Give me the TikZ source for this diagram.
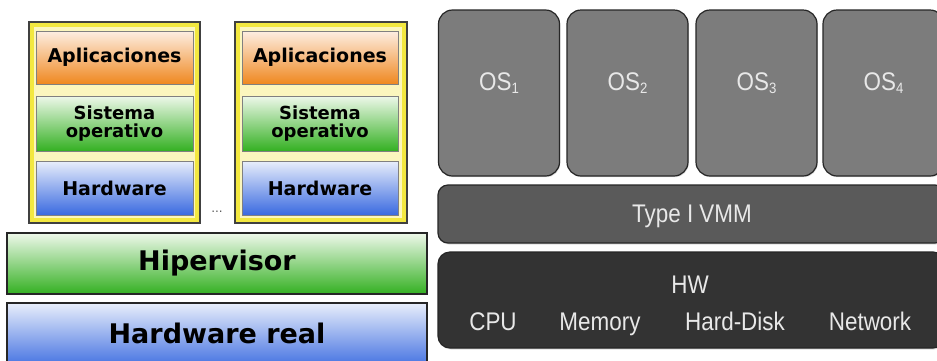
\documentclass[tikz,border=0pt]{standalone}
\usepackage{fontspec}
\setmainfont{DejaVu Sans}
\newfontfamily\arialf{Liberation Sans}
\usetikzlibrary{shadows}
\definecolor{vmband}{HTML}{F3E840}
\definecolor{vmfill}{HTML}{FBF6BE}
\definecolor{vmline}{HTML}{404040}
\definecolor{orTop}{HTML}{FDEEE2}
\definecolor{orBot}{HTML}{EF8820}
\definecolor{grTop}{HTML}{EEF8EA}
\definecolor{grBot}{HTML}{34B022}
\definecolor{blTop}{HTML}{E8EEFB}
\definecolor{blBot}{HTML}{3A6AE0}
\definecolor{osFill}{HTML}{7C7C7C}
\definecolor{vmmFill}{HTML}{5A5A5A}
\definecolor{hwFill}{HTML}{333333}
\definecolor{boxLine}{HTML}{262626}
\definecolor{lblText}{HTML}{E8E8E8}
\tikzset{
  vmouter/.style={draw=vmline, line width=1.4pt, fill=vmband, minimum width=171pt, minimum height=201pt, inner sep=0pt},
  vminner/.style={fill=vmfill, minimum width=161pt, minimum height=191pt, inner sep=0pt},
  layerbox/.style={draw=gray, line width=0.8pt, minimum width=157pt, inner sep=0pt, align=center,
     font=\bfseries\fontsize{19}{19}\selectfont},
  appbox/.style={layerbox, top color=orTop, bottom color=orBot, minimum height=53pt},
  sobox/.style={layerbox, top color=grTop, bottom color=grBot, minimum height=55pt,
     font=\bfseries\fontsize{18}{17.5}\selectfont},
  vhwbox/.style={layerbox, top color=blTop, bottom color=blBot, minimum height=54pt},
  bigbox/.style={draw=boxLine, line width=1.4pt, minimum width=420pt, inner sep=0pt,
     font=\bfseries\fontsize{27}{27}\selectfont},
  osbox/.style={draw=boxLine, line width=1.2pt, fill=osFill, rounded corners=14pt,
     minimum width=121pt, minimum height=166pt, inner sep=0pt,
     drop shadow={shadow xshift=0.8pt, shadow yshift=-1.2pt, opacity=0.25}},
  flatbox/.style={draw=boxLine, line width=1.2pt, rounded corners=10pt, minimum width=507pt, inner sep=0pt,
     drop shadow={shadow xshift=0.8pt, shadow yshift=-1.5pt, opacity=0.25}},
  lbl/.style={text=lblText, inner sep=0pt, anchor=base, font=\arialf\fontsize{25.5}{25.5}\selectfont},
}
\newcommand{\narrowtxt}[1]{\scalebox{0.88}[1]{#1}}
\newcommand{\sbs}[1]{\raisebox{-3pt}{\fontsize{15}{15}\selectfont #1}}
\begin{document}
\begin{tikzpicture}[x=1pt, y=-1pt]
\clip (0,0) rectangle (937,360);
\fill[white] (0,0) rectangle (937,360);
% ---------- left: hosted VMs ----------
\node[vmouter] (vm1) at (114.5,122.5) {};
\node[vminner] (vm1in) at (vm1.center) {};
\node[vmouter, minimum width=172pt] (vm2) at (321,122.5) {};
\node[vminner, minimum width=162pt] (vm2in) at (vm2.center) {};
\node[appbox] (app1) at (114.5,57.5) {Aplicaciones};
\node[sobox] (so1) at (114.5,123.5) {Sistema\\operativo};
\node[vhwbox] (hw1) at (114.5,188) {Hardware};
\node[appbox, minimum width=156pt] (app2) at (320,57.5) {Aplicaciones};
\node[sobox, minimum width=156pt] (so2) at (320,123.5) {Sistema\\operativo};
\node[vhwbox, minimum width=156pt] (hw2) at (320,188) {Hardware};
\node[text=gray!70!black, font=\fontsize{12}{12}\selectfont, inner sep=0pt] (dots) at (217,212) {...};
\node[bigbox, top color=grTop, bottom color=grBot, minimum height=61pt] (hyp) at (217,263.5) {Hipervisor};
\node[bigbox, top color=blTop, bottom color=blBot, minimum height=67pt] (hwreal) at (217,336.5) {};
\node[font=\bfseries\fontsize{27}{27}\selectfont, inner sep=0pt] (hwrealt) at (217,333) {Hardware real};
% ---------- right: type I VMM ----------
\node[osbox] (os1) at (499,93) {};
\node[osbox] (os2) at (627.5,93) {};
\node[osbox] (os3) at (756.5,93) {};
\node[osbox] (os4) at (883.5,93) {};
\node[lbl] (os1t) at (499,90) {\narrowtxt{OS\sbs{1}}};
\node[lbl] (os2t) at (627.5,90) {\narrowtxt{OS\sbs{2}}};
\node[lbl] (os3t) at (756.5,90) {\narrowtxt{OS\sbs{3}}};
\node[lbl] (os4t) at (883.5,90) {\narrowtxt{OS\sbs{4}}};
\node[flatbox, fill=vmmFill, minimum height=58pt] (vmm) at (691.5,214) {};
\node[lbl] (vmmt) at (692,222) {\narrowtxt{Type I VMM}};
\node[flatbox, fill=hwFill, minimum height=96pt, rounded corners=12pt] (hw) at (691.5,300) {};
\node[lbl] (hwt) at (690,293) {\narrowtxt{HW}};
\node[lbl] (cpu) at (493,330) {\narrowtxt{CPU}};
\node[lbl] (mem) at (600,330) {\narrowtxt{Memory}};
\node[lbl] (disk) at (735,330) {\narrowtxt{Hard-Disk}};
\node[lbl] (net) at (870,330) {\narrowtxt{Network}};
\end{tikzpicture}
\end{document}
